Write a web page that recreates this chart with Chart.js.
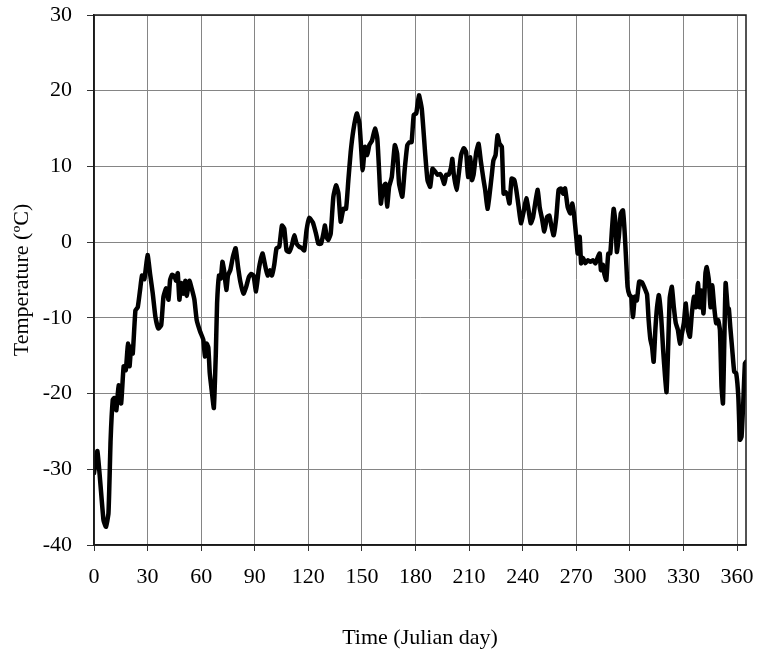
<!DOCTYPE html>
<html lang="en">
<head>
    <meta charset="UTF-8">
    <title>Daily Air Temperature</title>
    <script src="https://cdn.jsdelivr.net/npm/chart.js"></script>
    <style>
        html, body { margin: 0; padding: 0; background: #fff; }
        .chart-container { position: relative; width: 760px; height: 658px; }
    </style>
</head>
<body>
    <div class="chart-container">
        <canvas id="tempChart"></canvas>
    </div>

    <script>
        // Julian day of each reading and the mean air temperature (°C) on that day
        const days = [
            0, 1.9, 5.3, 6.7, 8.1, 9.3, 10.5, 11.3, 12.5, 13.8, 15.2, 16.6, 17.8, 19, 19.9, 20.8, 21.7,
            23.2, 24.5, 25.8, 26.9, 28.2, 30, 31.4, 32.9, 34.4, 36, 37.6, 38.9, 40.4, 41.7, 42.6, 43.7,
            45, 46, 46.9, 47.8, 48.9, 50.1, 51.2, 51.9, 53.4, 54.9, 56.2, 57.5, 59.4,
            61.2, 62.1, 63, 64, 64.8, 66.1, 67.1, 68.2, 68.9, 70, 71, 71.9, 72.8, 74.1, 75, 76.3, 77.8,
            79.3, 80.6, 81.9, 83.7, 85.2, 86.7, 88, 89.3, 90.7, 92.2, 93.5, 94.4, 95.9, 97.2, 98.5,
            99.6, 100.9, 102.2, 103.7, 105.2, 106.5, 107.8, 109.3, 110.8, 112.1, 113.4, 114.9, 116.4,
            117.7, 119, 120.5, 122.5, 124.3, 125.6, 127.1, 128.4, 129.3, 130.3, 131.2, 132.5, 134,
            135.5, 136.8, 138.1, 139.6, 141.1, 142.4, 143.7, 145.2, 147.1, 148.6, 149.5, 150.4, 151.7,
            153, 154.1, 155.6, 157.3, 158.6, 159.7, 160.6, 161.9, 163.2, 164.1, 165.2, 166.7, 168.4,
            169.7, 170.8, 172.6, 173.9, 175.4, 176.7, 177.8, 179, 180.4, 181.9, 183.5, 185.4, 186.7,
            188.2, 189.5, 191, 192.3, 193.8, 194.8, 196.1, 197.2, 198.5, 199.9, 200.6, 201.4, 202.9,
            204.2, 205.5, 207, 208.3, 209.4, 210.7, 211.6, 212.5, 214, 215.3, 216.6, 218.1, 219, 220.3,
            221.4, 222.7, 223.6, 224.8, 225.9, 227, 228.3, 229.3, 230.4, 231.5, 232.6, 233.8, 235.3,
            236.4, 237.7, 239, 240.5, 242, 243.3, 244.5, 245.8, 247.1, 248.4, 249.5, 250.8, 252.1,
            253.6, 254.9, 256, 257.3, 258.8, 260.1, 261.4, 262.6, 263.7, 265.2, 266.7, 267.8, 268.9,
            270.1, 270.8, 271.9, 272.7, 273.8, 275.1, 276.4, 277.9, 279.4, 280.7, 282, 283.1, 283.8,
            284.9, 285.7, 286.8, 287.9, 289, 290, 290.9, 291.8, 292.7, 293.8, 294.9, 296.1, 297, 297.9,
            298.7, 299.8, 300.8, 301.7, 302.8, 303.9, 305.2, 306.7, 308.3, 309.6, 310.5, 311.5, 312.4,
            313.3, 314.3, 315.2, 316.2, 317.5, 318.6, 319.7, 320.5, 321.2, 322.3, 323.5, 324.6, 325.7,
            326.9, 328, 329.1, 330.2, 331.3, 332.5, 333.6, 334.7, 335.9, 337, 338.1, 339.1, 340, 341.2,
            342.3, 343, 344.2, 345.1, 346.1, 347.2, 348.3, 349.4, 350.4, 351.3, 352.1, 352.8, 353.6,
            354.7, 355.4, 356.2, 357.3, 358.4, 359.5, 360.7, 361.6, 362.5, 363.5, 364.4, 365
        ];
        const temps = [
            -30.5, -27.6, -36.7, -37.6, -35.8, -26.1, -20.8, -20.6, -22.2, -18.9, -21.3, -16.4, -16.9, -13.4, -16.4, -13.8, -14.7,
            -9.0, -8.6, -6.3, -4.4, -4.9, -1.7, -4.2, -6.8, -9.9, -11.4, -11.0, -7.2, -6.1, -7.6, -5.0, -4.3,
            -4.5, -5.1, -4.1, -7.6, -5.4, -6.8, -5.1, -7.1, -5.1, -6.3, -7.6, -10.3, -11.8,
            -12.9, -15.1, -13.4, -13.9, -17.3, -20.0, -21.9, -14.7, -8.1, -4.4, -4.8, -2.6, -3.7, -6.3, -4.4, -3.7, -1.9,
            -0.8, -3.2, -5.2, -6.8, -5.9, -4.6, -4.2, -4.4, -6.5, -3.7, -2.1, -1.5, -3.2, -4.4, -3.7,
            -4.4, -3.0, -0.8, -0.6, 2.2, 1.8, -1.1, -1.3, -0.4, 0.9, -0.2, -0.6, -0.8,
            -1.1, 1.6, 3.2, 2.6, 1.1, -0.2, -0.2, 1.1, 2.2, 0.6, 0.3, 1.1, 6.0,
            7.5, 6.5, 2.7, 4.4, 4.4, 8.2, 11.9, 14.8, 17.0, 15.7, 12.6, 9.5, 12.6,
            11.5, 12.8, 13.4, 15.0, 13.7, 9.0, 5.1, 7.3, 7.7, 4.7, 7.3, 8.6, 12.8,
            11.7, 7.7, 6.0, 9.5, 12.8, 13.2, 13.2, 16.8, 17.0, 19.4, 17.6, 11.7, 8.2,
            7.3, 9.7, 9.3, 8.9, 9.0, 8.6, 7.7, 8.9, 8.9, 9.9, 11.0, 9.0, 6.9,
            9.0, 11.5, 12.4, 11.9, 8.6, 11.2, 8.2, 8.9, 11.9, 13.0, 10.6, 8.2, 6.9, 4.4,
            6.2, 8.9, 10.8, 11.5, 14.1, 13.0, 12.6, 6.4, 6.6, 6.2, 5.1, 8.4, 8.2,
            6.9, 4.7, 2.5, 4.0, 5.8, 4.2, 2.5, 3.3, 5.3, 6.9, 4.6, 3.1, 1.4,
            3.3, 3.5, 2.2, 0.9, 3.3, 6.9, 7.1, 6.4, 7.1, 4.6, 3.8, 5.1, 3.3,
            0.3, -1.5, 0.7, -2.8, -2.1, -2.8, -2.4, -2.6, -2.4, -2.8, -2.0, -1.5, -3.7,
            -3.0, -4.2, -5.0, -1.5, -1.5, 1.8, 4.4, 2.9, -1.3, 0.7, 3.8, 4.2, 1.6, -2.4,
            -5.9, -7.0, -7.2, -9.9, -7.2, -7.7, -5.2, -5.3, -6.1, -6.9, -10.3, -12.9, -13.8,
            -15.8, -11.4, -8.6, -7.0, -9.8, -14.2, -17.8, -19.8, -15.6, -7.4, -5.9, -8.6, -10.7,
            -11.6, -13.4, -12.1, -10.7, -8.1, -11.6, -12.5, -9.4, -7.2, -8.6, -5.4, -8.6, -6.4, -9.4,
            -4.1, -3.3, -5.0, -8.6, -5.7, -8.6, -10.7, -10.3, -11.6, -19.1, -21.3, -13.8, -5.4,
            -8.6, -8.8, -11.2, -14.2, -17.1, -17.3, -20.4, -26.1, -25.7, -21.0, -16.0, -15.8
        ];

        const xTitle = 'Time (Julian day)';
        const yTitle = 'Temperature (ºC)';

        const serif = { family: '"Liberation Serif", "Times New Roman", serif', size: 22 };
        const gridColor = '#858585';
        const axisColor = '#1a1a1a';

        // frame round the plot area (top and right edges are not drawn by the scales)
        const plotFrame = {
            id: 'plotFrame',
            afterDatasetsDraw(chart) {
                const { ctx, chartArea: a } = chart;
                ctx.save();
                ctx.strokeStyle = axisColor;
                ctx.lineWidth = 1.5;
                ctx.strokeRect(a.left, a.top, a.right - a.left, a.bottom - a.top);
                ctx.restore();
            }
        };

        const ctx = document.getElementById('tempChart').getContext('2d');
        new Chart(ctx, {
            type: 'line',
            data: {
                datasets: [{
                    data: days.map((d, i) => ({ x: d, y: temps[i] })),
                    borderColor: '#000',
                    borderWidth: 4.5,
                    borderJoinStyle: 'round',
                    borderCapStyle: 'round',
                    pointRadius: 0,
                    tension: 0.15,
                    fill: false,
                }],
            },
            options: {
                responsive: true,
                maintainAspectRatio: false,
                animation: false,
                layout: { padding: { top: 15, right: 14, left: 0, bottom: 0 } },
                plugins: {
                    legend: { display: false },
                    tooltip: { enabled: false },
                },
                scales: {
                    x: {
                        type: 'linear',
                        min: 0,
                        max: 365,
                        // fixed axis band; labels may overhang the plot edges
                        afterFit: (s) => { s.height = 113; s.paddingLeft = 0; s.paddingRight = 0; },
                        ticks: {
                            stepSize: 30,
                            includeBounds: false,
                            maxRotation: 0,
                            autoSkip: false,
                            padding: 13,
                            color: '#000',
                            font: serif,
                        },
                        grid: { color: gridColor, tickColor: '#333', tickLength: 6, lineWidth: 1 },
                        border: { color: axisColor, width: 1.5 },
                        title: {
                            display: true,
                            text: xTitle,
                            color: '#000',
                            font: serif,
                            padding: { top: 0, bottom: 7 },
                        },
                    },
                    y: {
                        min: -40,
                        max: 30,
                        afterFit: (s) => { s.width = 94; s.paddingTop = 0; s.paddingBottom = 0; },
                        ticks: {
                            stepSize: 10,
                            padding: 15,
                            color: '#000',
                            font: serif,
                        },
                        grid: { color: gridColor, tickColor: '#333', tickLength: 7, lineWidth: 1 },
                        border: { color: axisColor, width: 1.5 },
                        title: {
                            display: true,
                            text: yTitle,
                            color: '#000',
                            font: serif,
                            padding: { top: 9, bottom: 0 },
                        },
                    },
                },
            },
            plugins: [plotFrame],
        });
    </script>
</body>
</html>
